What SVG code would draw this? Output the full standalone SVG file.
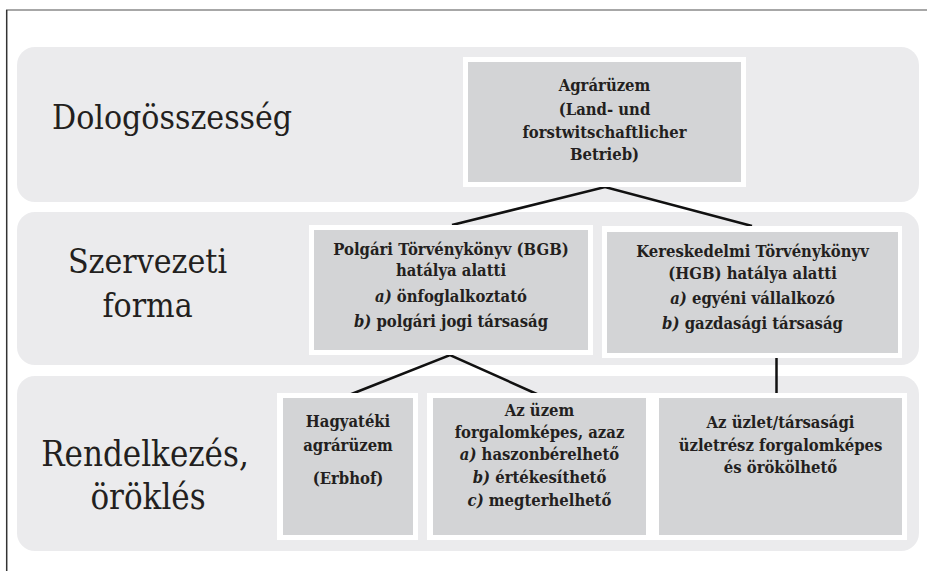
<svg xmlns="http://www.w3.org/2000/svg" width="927" height="571" viewBox="0 0 927 571">
<style>
.band{fill:#ebebed}
.outer{fill:#ffffff}
.inner{fill:#d3d4d6}
.lbl{font-family:'DejaVu Serif Condensed','DejaVu Serif',serif;font-stretch:condensed;font-size:33.5px;fill:#231f20}
.lbl3{font-size:34.5px}
.bx{font-family:'DejaVu Serif Condensed','DejaVu Serif',serif;font-stretch:condensed;font-size:16.5px;font-weight:bold;fill:#231f20;text-anchor:middle}
.it{font-style:italic}
.conn{stroke:#111;stroke-width:2.5;fill:none;stroke-linejoin:miter}
</style>
<rect width="927" height="571" fill="#ffffff"/>
<g id="frame">
<line x1="6" y1="10" x2="927" y2="10" stroke="#8a8a8a" stroke-width="1.6"/>
<line x1="6.7" y1="10" x2="6.7" y2="571" stroke="#333" stroke-width="1.5"/>
</g>
<g id="band-dologosszesseg">
<rect class="band" x="17" y="47" width="902" height="155" rx="18"/>
<text class="lbl" x="52" y="129">Dologösszesség</text>
</g>
<g id="band-szervezeti">
<rect class="band" x="17" y="212" width="902" height="153" rx="18"/>
<text class="lbl" x="147.5" y="273" text-anchor="middle">Szervezeti</text>
<text class="lbl" x="147.5" y="317" text-anchor="middle">forma</text>
</g>
<g id="band-rendelkezes">
<rect class="band" x="17" y="376" width="902" height="175" rx="18"/>
<text class="lbl lbl3" x="145" y="466" text-anchor="middle">Rendelkezés,</text>
<text class="lbl lbl3" x="148" y="509" text-anchor="middle">öröklés</text>
</g>
<g id="connectors">
<polyline class="conn" points="452,225 605,187 752,226"/>
<polyline class="conn" points="349,395 450,355 539,395"/>
<line class="conn" x1="776.5" y1="353" x2="776.5" y2="395"/>
</g>
<g id="node-agraruzem">
<rect class="outer" x="463" y="57" width="283" height="130"/>
<rect class="inner" x="468" y="62" width="273" height="120"/>
<text class="bx" x="604.5" y="91">Agrárüzem</text>
<text class="bx" x="604.5" y="115">(Land- und</text>
<text class="bx" x="604.5" y="138">forstwitschaftlicher</text>
<text class="bx" x="604.5" y="160">Betrieb)</text>
</g>
<g id="node-bgb">
<rect class="outer" x="309" y="225" width="284" height="130"/>
<rect class="inner" x="314" y="230" width="274" height="120"/>
<text class="bx" x="451" y="255">Polgári Törvénykönyv (BGB)</text>
<text class="bx" x="451" y="276">hatálya alatti</text>
<text class="bx" x="451" y="302"><tspan class="it">a)</tspan> önfoglalkoztató</text>
<text class="bx" x="451" y="327"><tspan class="it">b)</tspan> polgári jogi társaság</text>
</g>
<g id="node-hgb">
<rect class="outer" x="602" y="226" width="300" height="132"/>
<rect class="inner" x="607" y="232" width="291" height="121"/>
<text class="bx" x="752.5" y="257">Kereskedelmi Törvénykönyv</text>
<text class="bx" x="752.5" y="279">(HGB) hatálya alatti</text>
<text class="bx" x="752.5" y="304"><tspan class="it">a)</tspan> egyéni vállalkozó</text>
<text class="bx" x="752.5" y="329"><tspan class="it">b)</tspan> gazdasági társaság</text>
</g>
<g id="node-erbhof">
<rect class="outer" x="277" y="393" width="141" height="147"/>
<rect class="inner" x="283" y="398" width="130" height="137"/>
<text class="bx" x="348" y="427">Hagyatéki</text>
<text class="bx" x="348" y="451">agrárüzem</text>
<text class="bx" x="348" y="484">(Erbhof)</text>
</g>
<g id="node-forgalomkepes">
<rect class="outer" x="427" y="393" width="226" height="147"/>
<rect class="inner" x="433" y="398" width="213" height="137"/>
<text class="bx" x="539.5" y="416">Az üzem</text>
<text class="bx" x="539.5" y="438">forgalomképes, azaz</text>
<text class="bx" x="539.5" y="460"><tspan class="it">a)</tspan> haszonbérelhető</text>
<text class="bx" x="539.5" y="483"><tspan class="it">b)</tspan> értékesíthető</text>
<text class="bx" x="539.5" y="506"><tspan class="it">c)</tspan> megterhelhető</text>
</g>
<g id="node-uzletresz">
<rect class="outer" x="653" y="393" width="254" height="147"/>
<rect class="inner" x="659" y="398" width="243" height="137"/>
<text class="bx" x="780.5" y="428">Az üzlet/társasági</text>
<text class="bx" x="780.5" y="451">üzletrész forgalomképes</text>
<text class="bx" x="780.5" y="473">és örökölhető</text>
</g>
</svg>
